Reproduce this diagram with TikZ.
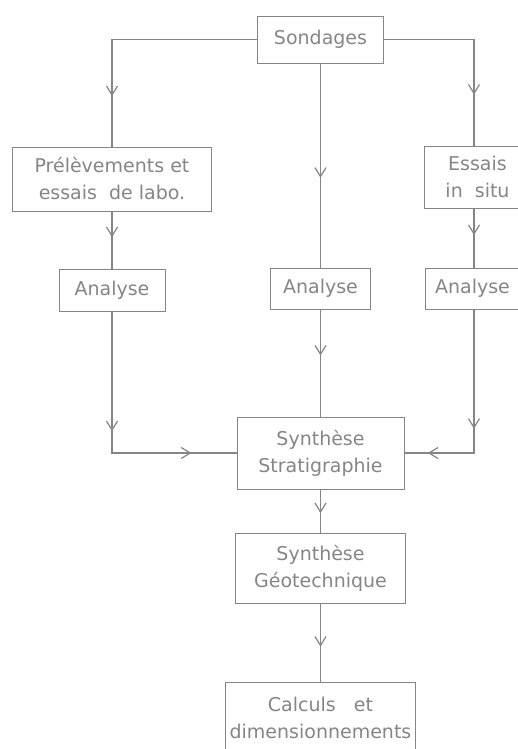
\documentclass[tikz,border=0pt]{standalone}
\usepackage{fontspec}
\setmainfont{DejaVu Sans}
\usepackage{tikz}
\usetikzlibrary{arrows.meta, decorations.markings, positioning}
\definecolor{ink}{rgb}{0.52,0.52,0.52}
\tikzstyle{box}  = [draw=ink, rectangle, inner sep=0pt, align=center, text=ink,
                    font=\fontsize{9.5}{13.5}\selectfont]
\tikzstyle{line} = [draw=ink, line width=0.6pt]
\tikzset{
  tip/.tip = {Straight Barb[length=4.5pt, width=5.5pt, line width=0.6pt]},
  mid/.style = {postaction={decorate}, decoration={markings,
      mark=at position #1 with {\arrow{tip}}}},
  midtwo/.style 2 args = {postaction={decorate}, decoration={markings,
      mark=at position #1 with {\arrow{tip}},
      mark=at position #2 with {\arrow{tip}}}}
}

\begin{document}
\begin{tikzpicture}[x=0.5pt, y=-0.5pt]

\clip (0,0) rectangle (518,749);

% nodes
\node [box, minimum width=63pt,  minimum height=23.5pt] (sond)  at (320.5,39.5)  {Sondages};
\node [box, minimum width=99.5pt,minimum height=32pt]   (prel)  at (112,179)     {Prélèvements et\\essais\ \ de labo.};
\node [box, minimum width=53pt,  minimum height=31pt]   (essai) at (477.5,177)   {Essais\\in\ \ situ};
\node [box, minimum width=53pt,  minimum height=21pt]   (ana1)  at (112,290)     {Analyse};
\node [box, minimum width=50pt,  minimum height=20.5pt] (ana2)  at (320.5,288.5) {Analyse};
\node [box, minimum width=47.5pt,minimum height=20.5pt] (ana3)  at (472.5,288.5) {Analyse};
\node [box, minimum width=83.5pt,minimum height=36pt]   (strat) at (320.5,453)   {Synthèse\\Stratigraphie};
\node [box, minimum width=85pt,  minimum height=35pt]   (geo)   at (320.5,568)   {Synthèse\\Géotechnique};
\node [box, minimum width=95pt,  minimum height=35pt]   (calc)  at (320.5,717.5) {Calculs\ \ \ et\\dimensionnements};

% edges
\path [line, mid=0.8]             (sond.west)  -| (prel.north);
\path [line, mid=0.74]            (sond.east)  -| (essai.north -| 474,0);
\path [line, mid=0.56]            (sond.south) -- (ana2.north);
\path [line, mid=0.45]            (prel.south) -- (ana1.north);
\path [line, mid=0.45]            (essai.south -| 474,0) -- (ana3.north -| 474,0);
\path [line, mid=0.43]            (ana2.south) -- (strat.north);
\path [line, midtwo={0.45}{0.83}] (ana1.south) |- (strat.west);
\path [line, midtwo={0.56}{0.89}] (ana3.south -| 474,0) |- (strat.east);
\path [line, mid=0.55]            (strat.south) -- (geo.north);
\path [line, mid=0.55]            (geo.south)   -- (calc.north);

\end{tikzpicture}
\end{document}
